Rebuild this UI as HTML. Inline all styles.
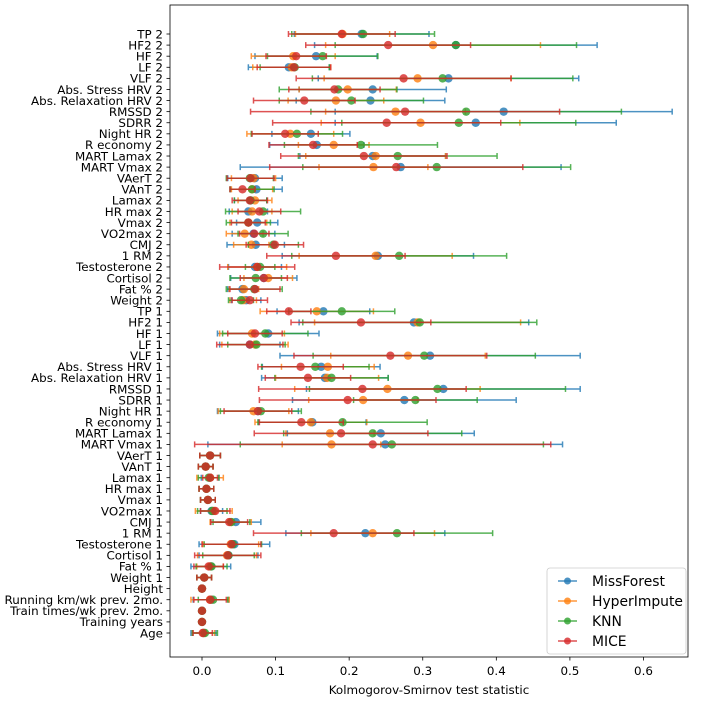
<!DOCTYPE html>
<html><head><meta charset="utf-8"><style>
body{margin:0;background:#fff;font-family:"DejaVu Sans","Liberation Sans",sans-serif}
svg{display:block}
svg text{font-family:"DejaVu Sans","Liberation Sans",sans-serif}
</style></head><body>
<svg id="c" width="703" height="703" xmlns="http://www.w3.org/2000/svg"></svg>
<script>
const categories=["TP 2","HF2 2","HF 2","LF 2","VLF 2","Abs. Stress HRV 2","Abs. Relaxation HRV 2","RMSSD 2","SDRR 2","Night HR 2","R economy 2","MART Lamax 2","MART Vmax 2","VAerT 2","VAnT 2","Lamax 2","HR max 2","Vmax 2","VO2max 2","CMJ 2","1 RM 2","Testosterone 2","Cortisol 2","Fat % 2","Weight 2","TP 1","HF2 1","HF 1","LF 1","VLF 1","Abs. Stress HRV 1","Abs. Relaxation HRV 1","RMSSD 1","SDRR 1","Night HR 1","R economy 1","MART Lamax 1","MART Vmax 1","VAerT 1","VAnT 1","Lamax 1","HR max 1","Vmax 1","VO2max 1","CMJ 1","1 RM 1","Testosterone 1","Cortisol 1","Fat % 1","Weight 1","Height","Running km/wk prev. 2mo.","Train times/wk prev. 2mo.","Training years","Age"];
const seriesNames=["MissForest","HyperImpute","KNN","MICE"];
const mfMean=[.217,.345,.155,.118,.335,.232,.229,.41,.372,.148,.156,.232,.27,.072,.074,.066,.063,.075,.07,.073,.239,.072,.084,.055,.06,.165,.288,.09,.065,.31,.162,.167,.328,.275,.076,.15,.243,.249,.011,.005,.011,.006,.008,.013,.046,.222,.044,.036,.012,.003,0,.012,0,0,.002];
const mfSd=[.0915,.192,.083,.055,.177,.10,.101,.229,.191,.053,.064,.099,.218,.037,.035,.022,.026,.028,.029,.039,.13,.036,.045,.02,.02,.063,.156,.069,.041,.204,.08,.086,.186,.152,.055,.073,.127,.241,.014,.01,.012,.01,.01,.015,.034,.108,.048,.04,.027,.01,0,.024,0,0,.017];
const hiMean=[.191,.314,.124,.122,.293,.198,.182,.263,.297,.12,.179,.236,.233,.07,.068,.072,.068,.063,.058,.067,.236,.075,.09,.057,.056,.156,.293,.068,.072,.28,.171,.17,.252,.219,.07,.148,.174,.176,.011,.005,.011,.006,.008,.016,.039,.232,.039,.034,.011,.003,0,.011,0,0,.002];
const hiSd=[.064,.146,.057,.053,.127,.066,.065,.095,.135,.059,.048,.095,.074,.03,.028,.023,.027,.025,.025,.024,.104,.04,.033,.02,.018,.077,.14,.044,.045,.105,.063,.07,.126,.074,.048,.076,.06,.067,.014,.01,.018,.01,.01,.025,.028,.084,.038,.04,.018,.01,0,.026,0,0,.015];
const knnMean=[.219,.345,.164,.126,.327,.185,.203,.359,.349,.129,.216,.266,.319,.065,.068,.066,.083,.063,.083,.097,.268,.079,.073,.071,.053,.19,.296,.086,.074,.302,.154,.176,.32,.29,.08,.191,.232,.258,.011,.005,.009,.006,.008,.014,.04,.265,.042,.036,.013,.003,0,.015,0,0,.004];
const knnSd=[.097,.164,.075,.047,.177,.08,.098,.211,.159,.062,.104,.135,.182,.032,.03,.022,.051,.03,.034,.034,.146,.02,.035,.038,.017,.072,.159,.058,.039,.151,.073,.077,.174,.084,.055,.115,.121,.206,.014,.01,.014,.01,.01,.02,.025,.13,.039,.035,.021,.01,0,.02,0,0,.017];
const miceMean=[.19,.253,.128,.125,.274,.18,.139,.276,.251,.113,.151,.22,.264,.066,.055,.065,.078,.063,.071,.099,.182,.075,.084,.072,.065,.118,.216,.072,.065,.256,.134,.144,.218,.198,.076,.135,.189,.232,.011,.005,.011,.006,.008,.018,.037,.179,.04,.035,.009,.003,0,.011,0,0,.001];
const miceSd=[.0725,.112,.041,.05,.146,.062,.069,.21,.155,.045,.06,.113,.172,.032,.017,.024,.029,.023,.02,.039,.094,.051,.032,.034,.024,.03,.095,.037,.045,.131,.058,.058,.141,.12,.046,.057,.118,.242,.014,.01,.01,.01,.01,.02,.025,.109,.04,.045,.02,.01,0,.022,0,0,.013];
const xTicks=[0,0.1,0.2,0.3,0.4,0.5,0.6];
const xTickLabels=["0.0","0.1","0.2","0.3","0.4","0.5","0.6"];

const NS="http://www.w3.org/2000/svg";
const svg=document.getElementById('c');
const L=170,R=688,T=5,B=657;
const xs=v=>202+v*735.8;
const ys=i=>34+i*(599/54);
function mk(tag,attrs,parent){const e=document.createElementNS(NS,tag);for(const k in attrs)e.setAttribute(k,attrs[k]);(parent||svg).appendChild(e);return e;}
const frame=mk('rect',{x:L,y:T,width:R-L,height:B-T,fill:'none',stroke:'#000','stroke-width':0.8});


categories.forEach((c,i)=>{
  const y=ys(i);
  const tk=mk('line',{x1:L-3.5,x2:L,y1:y,y2:y,stroke:'#000','stroke-width':0.8});
  
  
  const t=mk('text',{x:L-7,y:y+4.3,'text-anchor':'end','font-size':'11.9px',fill:'#000'});
  t.textContent=c;
  
  
});
xTicks.forEach((v,i)=>{
  const x=xs(v);
  const tk=mk('line',{x1:x,x2:x,y1:B,y2:B+3.5,stroke:'#000','stroke-width':0.8});
  
  
  const t=mk('text',{x:x,y:B+18,'text-anchor':'middle','font-size':'11.9px',fill:'#000'});
  t.textContent=xTickLabels[i];
  
  
});
const xt=mk('text',{x:(L+R)/2,y:694,'text-anchor':'middle','font-size':'11.9px',fill:'#000'});
xt.textContent="Kolmogorov-Smirnov test statistic";



const colors=["#1f77b4","#ff7f0e","#2ca02c","#d62728"];
const means=[mfMean,hiMean,knnMean,miceMean];
const sds=[mfSd,hiSd,knnSd,miceSd];
means.forEach((m,s)=>{
  const g=mk('g',{opacity:0.8});
  
  
  m.forEach((v,i)=>{
    const y=ys(i),x1=xs(v-sds[s][i]),x2=xs(v+sds[s][i]);
    if(sds[s][i]>0){
      const ln=mk('line',{x1:x1,x2:x2,y1:y,y2:y,stroke:colors[s],'stroke-width':1.5},g);
      
      
      [x1,x2].forEach(cx=>{
        const cp=mk('line',{x1:cx,x2:cx,y1:y-3,y2:y+3,stroke:colors[s],'stroke-width':1.5},g);
        
        
      });
    }
    const p=mk('circle',{cx:xs(v),cy:y,r:4.2,fill:colors[s]},g);
    
    
  });
});
const lg=mk('g',{});


mk('rect',{x:547,y:568,width:139,height:86,rx:3,fill:'#fff','fill-opacity':0.8,stroke:'#ccc','stroke-width':0.8},lg);
seriesNames.forEach((n,s)=>{
  const y=581+s*20;
  const e=mk('g',{},lg);
  
  
  mk('line',{x1:558,x2:577,y1:y,y2:y,stroke:colors[s],'stroke-width':1.5,opacity:0.8},e);
  mk('circle',{cx:567.5,cy:y,r:3.5,fill:colors[s],opacity:0.8},e);
  const t=mk('text',{x:592,y:y+5,'font-size':'13.9px',fill:'#000'},e);
  t.textContent=n;
});
</script>
</body></html>
